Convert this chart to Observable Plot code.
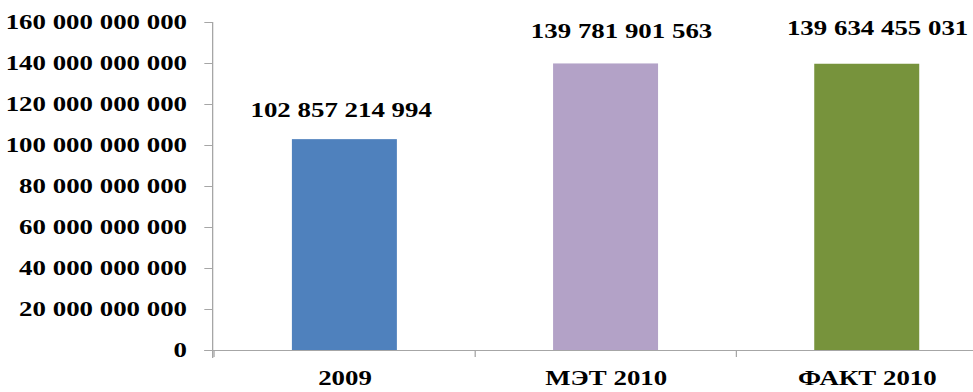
<!DOCTYPE html>
<html>
<head>
<meta charset="utf-8">
<script src="https://cdn.jsdelivr.net/npm/d3@7"></script>
<script src="https://cdn.jsdelivr.net/npm/@observablehq/plot@0.6"></script>
<style>
  html, body { margin: 0; padding: 0; background: #fff; overflow: hidden; }
  #chart svg { display: block; overflow: visible; transform-origin: 0 0; }
  #chart svg, #chart svg text {
    font-family: "Liberation Serif", "Times New Roman", serif !important;
    font-weight: bold;
  }
</style>
</head>
<body>
<div id="chart"></div>
<script>
// Budget totals by period
const categories = ["2009", "МЭТ 2010", "ФАКТ 2010"];
const amounts = [102857214994, 139781901563, 139634455031];
const barColors = ["#4F81BD", "#B3A2C7", "#77933C"];
const yTicks = [0, 20e9, 40e9, 60e9, 80e9, 100e9, 120e9, 140e9, 160e9];

// Label nudges (dx, dy) for each value label, in px
const labelNudge = [[-3, -23], [12, -26], [8, -29]];

const data = categories.map((category, i) => ({category, amount: amounts[i]}));

// Numbers grouped by thousands with a space
const fmt = d3.formatLocale({decimal: ",", thousands: " ", grouping: [3], currency: ["", ""]}).format(",d");

// The chart is laid out narrow and then stretched horizontally
const baseWidth = 760;
const stretch = 973 / baseWidth;
const plotLeft = 165.6;
const plotRight = 779.5;
const step = (plotRight - plotLeft) / categories.length;
const axisColor = "#a6a6a6";

const valueLabels = data.map((d, i) =>
  Plot.text([d], {
    x: "category",
    y: "amount",
    text: (d) => fmt(d.amount),
    lineAnchor: "bottom",
    dx: labelNudge[i][0],
    dy: labelNudge[i][1],
    fill: "#000"
  })
);

const chart = Plot.plot({
  width: baseWidth,
  height: 392,
  marginLeft: plotLeft,
  marginRight: baseWidth - plotRight,
  marginTop: 22,
  marginBottom: 42,
  style: {
    fontSize: "21px",
    fontWeight: "bold",
    color: "#000",
    background: "#fff",
    overflow: "visible"
  },
  x: {domain: categories, paddingInner: 0.6, paddingOuter: 0.3},
  y: {domain: [0, 160e9]},
  color: {domain: categories, range: barColors},
  marks: [
    Plot.barY(data, {x: "category", y: "amount", fill: "category"}),
    Plot.frame({anchor: "left", stroke: axisColor, insetBottom: -7}),
    Plot.frame({anchor: "bottom", stroke: axisColor, insetLeft: -6}),
    Plot.axisY({ticks: yTicks, tickFormat: fmt, tickSize: 6, tickPadding: 14, stroke: axisColor, fill: "#000", label: null}),
    // tick marks between categories
    Plot.axisX({tickSize: 7, tickFormat: () => "", dx: -step / 2, stroke: axisColor, label: null}),
    Plot.axisX({tickSize: 0, tickPadding: 20, fill: "#000", label: null}),
    ...valueLabels
  ]
});

chart.style.transform = `scaleX(${stretch})`;
document.getElementById("chart").appendChild(chart);
</script>
</body>
</html>
